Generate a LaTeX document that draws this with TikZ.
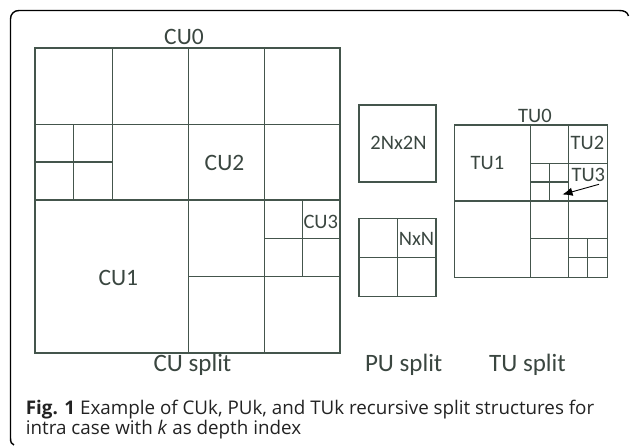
\documentclass[tikz,border=0pt]{standalone}
\usepackage{fontspec}
\setmainfont{Open Sans}
\newfontfamily\lblfont{Carlito}
\usetikzlibrary{arrows.meta}
\definecolor{gridc}{HTML}{44554C}
\definecolor{lblc}{HTML}{3A4640}
\definecolor{capc}{HTML}{222222}
\tikzset{
  gridline/.style={draw=gridc, line width=1.05pt},
  lbl/.style={inner sep=0pt, text=lblc, font=\lblfont\fontsize{23.5}{23.5}\selectfont},
  lblsmall/.style={inner sep=0pt, text=lblc, font=\lblfont\fontsize{20.5}{20.5}\selectfont},
  title/.style={inner sep=0pt, anchor=base, text=lblc, font=\lblfont\fontsize{25}{25}\selectfont},
  capline/.style={inner sep=0pt, anchor=base west, text=capc, font=\fontsize{18.8}{18.8}\selectfont},
}
\begin{document}
\begin{tikzpicture}[x=1pt,y=-1pt]
\useasboundingbox (0,0) rectangle (630,446);
% frame
\draw[line width=1.4pt, black] (14,445) .. controls (11.5,444.5) and (10.5,442) .. (10.5,438)
  -- (10.5,19) .. controls (10.5,14) and (14,10.5) .. (19,10.5)
  -- (619,10.5) .. controls (624,10.5) and (627.5,12) .. (628.5,16);
% CU grid
\draw[gridline] (35,48) rectangle (340,353);
\draw[gridline] (188.5,48) -- (188.5,353);
\draw[gridline] (264.5,48) -- (264.5,353);
\draw[gridline] (112.5,48) -- (112.5,200);
\draw[gridline] (35,124.3) -- (340,124.3);
\draw[gridline] (35,200) -- (340,200);
\draw[gridline] (188.5,276.5) -- (340,276.5);
\draw[gridline] (73.8,124.3) -- (73.8,200);
\draw[gridline] (35,162) -- (112.5,162);
\draw[gridline] (302.5,200) -- (302.5,276.5);
\draw[gridline] (264.5,238.3) -- (340,238.3);
\node[lbl] (cu0) at (184,36.5) {CU0};
\node[lbl] (cu2) at (224.5,162.5) {CU2};
\node[lbl] (cu1) at (118.3,278.3) {CU1};
\node[lblsmall] (cu3) at (320.8,221.7) {CU3};
% PU
\draw[gridline] (359,105) rectangle (436,182);
\draw[gridline] (359,218.3) rectangle (436,296.7);
\draw[gridline] (397.7,218.3) -- (397.7,296.7);
\draw[gridline] (359,257.5) -- (436,257.5);
\node[lblsmall] (pu2n) at (398.5,142.5) {2Nx2N};
\node[lblsmall] (punn) at (416.5,239) {NxN};
% TU
\draw[gridline] (454.3,125) rectangle (607.3,277.3);
\draw[gridline] (530.7,125) -- (530.7,277.3);
\draw[gridline] (568.5,125) -- (568.5,277.3);
\draw[gridline] (454.3,201) -- (607.3,201);
\draw[gridline] (530.7,163.3) -- (607.3,163.3);
\draw[gridline] (530.7,238.6) -- (607.3,238.6);
\draw[gridline] (549.6,163.3) -- (549.6,201);
\draw[gridline] (530.7,182) -- (568.5,182);
\draw[gridline] (587.9,238.6) -- (587.9,277.3);
\draw[gridline] (568.5,257.8) -- (607.3,257.8);
\node[lblsmall] (tu0) at (535,116.3) {TU0};
\node[lblsmall] (tu1) at (487.5,163.3) {TU1};
\node[lblsmall] (tu2) at (587.5,143.3) {TU2};
\node[lblsmall] (tu3) at (588.3,175) {TU3};
\coordinate (arrs) at (599,184.3);
\coordinate (arrt) at (562.5,194.5);
\draw[draw=black, line width=0.9pt, -{Latex[length=10pt,width=8.5pt]}] (arrs) -- (arrt);
% split titles
\node[title] (cusplit) at (192.5,371.7) {CU split};
\node[title] (pusplit) at (403.7,371.7) {PU split};
\node[title] (tusplit) at (527.5,371.7) {TU split};
% caption
\node[capline] (cap1) at (25.7,415) {\textbf{Fig. 1} Example of CUk, PUk, and TUk recursive split structures for};
\node[capline] (cap2) at (25.7,434.5) {intra case with \textit{k} as depth index};
\end{tikzpicture}
\end{document}
